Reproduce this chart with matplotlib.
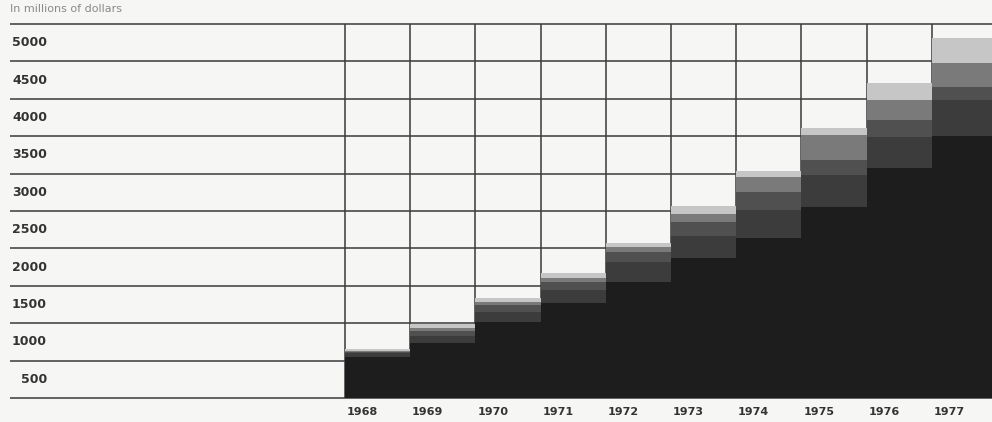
import matplotlib.pyplot as plt
import numpy as np

years = ["1968", "1969", "1970", "1971", "1972", "1973", "1974", "1975", "1976", "1977"]
# stacked layers, in millions of dollars (bottom to top)
base = [550, 735, 1015, 1270, 1550, 1870, 2140, 2555, 3075, 3500]
layer2 = [50, 95, 135, 175, 270, 295, 375, 430, 415, 480]
layer3 = [15, 65, 95, 105, 135, 190, 240, 200, 225, 175]
layer4 = [15, 40, 40, 55, 65, 105, 200, 335, 265, 320]
layer5 = [25, 55, 55, 65, 55, 105, 80, 90, 230, 335]
y_ticks = [500, 1000, 1500, 2000, 2500, 3000, 3500, 4000, 4500, 5000]

layers = [base, layer2, layer3, layer4, layer5]
colors = ["#1d1d1d", "#3c3c3c", "#505050", "#7a7a7a", "#c6c6c6"]

bg = "#f6f6f4"
fig = plt.figure(figsize=(9.92, 4.22), dpi=100, facecolor=bg)
ax = fig.add_axes([10 / 992, 24 / 422, 982 / 992, 374 / 422])
ax.set_facecolor(bg)

x = np.arange(len(years))
x_left = -(345 - 10) / 65.2
ax.set_xlim(x_left, x_left + 982 / 65.2)
ax.set_ylim(0, 5000)

# grid behind the bars
ax.hlines([0] + y_ticks, x_left, x_left + 982 / 65.2, color="#3a3a3a", lw=1.1,
          zorder=1, clip_on=False)
ax.vlines(x, 0, 5000, color="#3a3a3a", lw=1.1, zorder=1, clip_on=False)

bottom = np.zeros(len(years))
for vals, c in zip(layers, colors):
    ax.bar(x, vals, width=1, align="edge", bottom=bottom, color=c, lw=0, zorder=2)
    bottom += np.array(vals)

for s in ax.spines.values():
    s.set_visible(False)
ax.set_xticks([])
ax.set_yticks([])

for t in y_ticks:
    ax.text(37 / 982, t - 250, str(t), transform=ax.get_yaxis_transform(),
            ha="right", va="center", fontsize=9, fontweight="bold", color="#333333")

for i, yr in enumerate(years):
    ax.text(i + 0.03, -190, yr, ha="left", va="center", fontsize=8,
            fontweight="bold", color="#333333", clip_on=False)

fig.text(10 / 992, 1 - 9 / 422, "In millions of dollars", ha="left", va="center",
         fontsize=8, color="#8a8a8a")

fig.savefig("out.png", dpi=100, facecolor=bg)
